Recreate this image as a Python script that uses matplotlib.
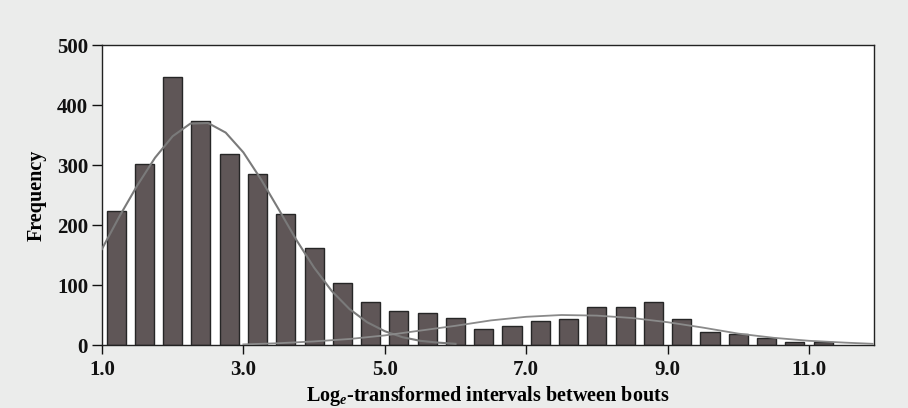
import numpy as np
import matplotlib.pyplot as plt

# histogram of log-transformed bout intervals
bin_centers = [1.2, 1.6, 2.0, 2.4, 2.8, 3.2, 3.6, 4.0, 4.4, 4.8, 5.2, 5.6, 6.0,
               6.4, 6.8, 7.2, 7.6, 8.0, 8.4, 8.8, 9.2, 9.6, 10.0, 10.4, 10.8, 11.2]
freq = [223, 301, 447, 373, 318, 285, 219, 162, 104, 71, 57, 54, 45,
        26, 31, 40, 43, 64, 63, 71, 43, 21, 18, 11, 5, 5]

# fitted curves
fit1_x = [1.0, 1.25, 1.5, 1.75, 2.0, 2.25, 2.5, 2.75, 3.0, 3.25, 3.5, 3.75,
          4.0, 4.25, 4.5, 4.75, 5.0, 5.25, 5.5, 5.75, 6.0]
fit1_y = [160, 215, 266, 312, 348, 369, 370, 354, 321, 276, 226, 175,
          129, 90, 60, 38, 23, 13, 7, 4, 2]
fit2_x = [3.0, 3.5, 4.0, 4.5, 5.0, 5.5, 6.0, 6.5, 7.0, 7.5, 8.0, 8.5,
          9.0, 9.5, 10.0, 10.5, 11.0, 11.5, 11.9]
fit2_y = [1, 3, 6, 10, 16, 24, 32, 41, 47, 50, 49, 45,
          38, 29, 19, 12, 7, 4, 2]

xticks = [1, 3, 5, 7, 9, 11]
yticks = [0, 100, 200, 300, 400, 500]

plt.rcParams['font.family'] = 'Liberation Serif'
plt.rcParams['mathtext.fontset'] = 'custom'
plt.rcParams['mathtext.rm'] = 'Liberation Serif:bold'
plt.rcParams['mathtext.it'] = 'Liberation Serif:italic:bold'

fig = plt.figure(figsize=(9.08, 4.08), dpi=100, facecolor='#ebeceb')
ax = fig.add_axes([0.1123, 0.1544, 0.8503, 0.7353])
ax.set_facecolor('white')

ax.bar(bin_centers, freq, width=0.27, color='#5f5657', edgecolor='#262626',
       linewidth=1.0, zorder=2)
ax.plot(fit1_x, fit1_y, color='#7a7a7a', lw=1.5, zorder=3)
ax.plot(fit2_x, fit2_y, color='#8a8a8a', lw=1.3, zorder=3)

ax.set_xlim(1.0, 11.92)
ax.set_ylim(0, 500)
ax.set_xticks(xticks)
ax.set_xticklabels([f'{t:.1f}' for t in xticks])
ax.set_yticks(yticks)
ax.tick_params(direction='out', width=1, labelsize=15, colors='#111111')
ax.tick_params(axis='y', length=7, pad=3)
ax.tick_params(axis='x', length=6.5, pad=4)
for lab in ax.get_xticklabels() + ax.get_yticklabels():
    lab.set_fontweight('bold')

for s in ax.spines.values():
    s.set_linewidth(1.0)
    s.set_color('#222222')

ax.set_ylabel('Frequency', fontsize=14.5, fontweight='bold', labelpad=7)
ax.set_xlabel('Log$_{e}$-transformed intervals between bouts', fontsize=14.5,
              fontweight='bold', labelpad=3)

fig.savefig('out.png', dpi=100, facecolor=fig.get_facecolor())
